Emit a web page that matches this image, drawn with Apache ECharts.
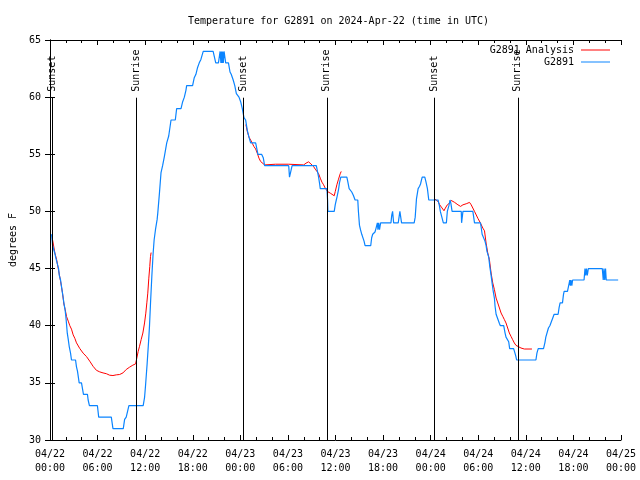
<!DOCTYPE html>
<html>
<head>
<meta charset="utf-8">
<script src="https://cdn.jsdelivr.net/npm/echarts@6/dist/echarts.min.js"></script>
<style>html,body{margin:0;padding:0;background:#fff}#c{width:640px;height:480px}</style>
</head>
<body>
<div id="c"></div>
<script>
// hours since 2024-04-22 00:00 UTC
const xTickLabels = ['04/22\n00:00','04/22\n06:00','04/22\n12:00','04/22\n18:00','04/23\n00:00','04/23\n06:00','04/23\n12:00','04/23\n18:00','04/24\n00:00','04/24\n06:00','04/24\n12:00','04/24\n18:00','04/25\n00:00'];

const eventNames = ['Sunset','Sunrise','Sunset','Sunrise','Sunset','Sunrise'];
const eventTimes = [0.33, 10.87, 24.4, 34.9, 48.45, 59.0];

const obsTimes = [0.2,0.33,0.62,0.71,0.96,1.08,1.17,1.33,1.54,1.67,1.75,1.92,2.04,2.17,2.3,2.42,2.59,2.71,3.22,3.34,3.47,3.68,3.97,4.22,4.72,4.81,4.97,5.98,6.14,7.73,7.94,9.24,9.41,9.61,9.95,11.75,11.92,12.04,12.25,12.42,12.54,12.67,12.84,13.0,13.13,13.3,13.51,13.59,13.8,14.0,14.2,14.42,14.72,14.97,15.26,15.8,15.97,16.52,16.73,16.94,17.14,17.23,17.98,18.19,18.4,18.61,18.82,19.03,19.32,20.57,20.9,21.24,21.45,21.55,21.62,21.7,21.78,21.85,21.95,22.05,22.15,22.5,22.7,22.85,23.0,23.1,23.3,23.5,23.83,24.04,24.25,24.46,24.67,24.88,25.09,25.3,25.93,26.22,26.68,26.89,27.06,30.1,30.2,30.44,30.53,33.58,33.7,33.87,34.0,34.08,34.92,35.0,35.04,35.84,35.97,36.1,36.2,36.38,36.5,36.67,37.43,37.55,37.72,37.9,38.05,38.26,38.47,38.81,38.89,39.02,39.15,39.31,39.5,39.6,39.73,40.44,40.56,40.69,40.98,41.1,41.28,41.35,41.45,41.55,41.69,42.99,43.1,43.2,43.33,43.91,44.12,44.33,45.92,46.05,46.21,46.42,46.6,46.72,46.93,47.26,47.4,47.59,47.76,48.93,49.1,49.22,49.4,49.6,49.98,50.1,50.3,50.44,50.55,50.7,51.86,51.9,51.98,52.07,53.32,53.53,54.28,54.35,54.49,54.7,54.85,54.99,55.1,55.32,55.45,55.62,55.75,55.87,56.04,56.12,56.25,56.46,56.67,56.79,57.21,57.37,57.5,57.71,57.84,57.96,58.46,58.63,58.75,58.84,61.27,61.4,61.56,62.23,62.4,62.52,62.73,62.85,63.03,63.28,63.57,64.07,64.2,64.32,64.62,64.74,64.83,65.25,65.46,65.54,65.62,65.7,65.8,65.9,66.08,67.34,67.46,67.55,67.65,67.75,67.88,68.09,69.64,69.76,69.85,69.95,70.05,70.14,71.64];
const obsTemps = [48,47,46.3,46,46,45,44.4,44,43,42.4,42,41.3,40.5,39.4,38.8,38.2,37.6,37,37,36.4,36,35,35,34,34,33.5,33,33,32,32,31,31,31.8,32,33,33,33.7,34.7,36.7,38.5,39.9,41.9,44.3,46.3,47.5,48.4,49.3,49.85,51.6,53.4,54,54.8,56,56.6,58,58,59,59,59.6,60,60.6,61,61,61.7,62,62.6,63,63.3,64,64,63,63,64,63,64,63,64,63,64,64,63,63,62.2,62,62,61.5,61,60.3,60,59.6,59,58.2,58,57.1,56.5,56,56,55,55,54.7,54,54,53,53,54,54,53.6,53,52.4,52,52,51,50,50,50.6,51,51.3,51.9,52.5,53,53,52.6,52,52,51.7,51.4,51,51,50,48.8,48.4,48,47.9,47.4,47,47,47.7,48,48.2,48.5,49,48.4,49,48.4,49,49,49.7,50,49,49,50,49,49,49.5,51.1,52,52.2,52.4,53,53,52.6,52,51,51,50.5,50,50,49,49,50,50.5,51,50.7,50,50,49,49,50,50,49,49,48.7,48,48,47.4,47,46.5,46,45.2,44.4,43.7,43.1,42.4,41.7,41,41,40.2,40,40,39.4,39,39,38.6,38,38,37.6,37.3,37,37,37.6,38,38,38.5,39,39,39.8,40,40,41,41,41.6,42,42,42.7,43,43,43.7,44,43.5,44,43.5,44,44,44,45,44.4,45,44.4,45,45,45,44,45,44,45,44,44];

const anaTimes = [0.3,0.62,0.83,1.04,1.33,1.58,1.75,1.92,2.09,2.3,2.5,2.71,2.92,3.13,3.34,3.76,4.18,4.6,5.01,5.43,5.85,6.27,6.69,7.11,7.52,7.94,8.36,8.78,9.2,9.61,10.03,10.45,10.79,10.95,11.12,11.29,11.5,11.71,11.92,12.08,12.21,12.33,12.46,12.58,12.67,12.75,18,
24.7,24.88,25.09,25.3,25.51,25.72,25.93,26.14,26.35,26.56,26.77,27.06,28.44,30.1,30.31,31.99,32.28,32.6,32.9,33.24,33.45,33.66,33.87,34.08,34.29,34.5,34.71,35.0,35.34,35.84,35.97,36.17,36.38,36.59,36.72,42,
48.5,48.72,48.93,49.14,49.35,49.68,49.85,50.1,50.39,50.6,50.81,51.02,51.44,51.77,52.07,52.48,52.9,53.11,53.53,53.95,54.28,54.58,54.79,54.99,55.2,55.41,55.62,55.83,56.04,56.25,56.46,56.67,56.88,57.09,57.3,57.5,57.71,57.92,58.13,58.34,58.55,58.76,58.97,59.39,59.81,60.77];
const anaTemps = [47.6,46.35,45.8,45.0,43.9,42.85,41.9,41.4,40.8,40.4,40.0,39.7,39.2,38.9,38.5,38.0,37.6,37.3,36.9,36.45,36.1,35.96,35.87,35.8,35.67,35.64,35.7,35.73,35.87,36.17,36.37,36.55,36.66,37.18,37.76,38.2,38.8,39.36,40.24,41.1,42.0,42.85,44.16,45.18,46.05,46.4,null,
57.6,57.0,56.5,56.25,55.96,55.67,55.47,55.09,54.66,54.37,54.22,54.07,54.13,54.13,54.07,54.07,54.22,54.34,54.16,53.92,53.7,53.5,53.3,52.91,52.56,52.33,52.03,51.74,51.6,51.37,51.74,52.33,52.82,53.29,53.5,null,
51.1,51.07,50.87,50.58,50.38,50.06,50.29,50.58,50.73,50.96,50.87,50.79,50.58,50.44,50.58,50.67,50.79,50.58,50.0,49.4,48.98,48.54,48.3,47.23,46.36,45.77,44.61,43.74,43.15,42.42,41.99,41.55,41.11,40.82,40.53,40.24,39.8,39.36,39.07,38.78,38.49,38.28,38.2,38.05,37.96,37.96];

const FONT = 'DejaVu Sans Mono';
const obsData = obsTimes.map((t, i) => [t, obsTemps[i]]);
const anaData = anaTimes.map((t, i) => [t, anaTemps[i]]);

const markData = [];
eventTimes.forEach((t, i) => {
  markData.push([{coord: [t, 30], lineStyle: {color: '#000', width: 1, type: 'solid'}, label: {show: false}}, {coord: [t, 59.95]}]);
  markData.push([{name: eventNames[i], coord: [t, 59.95], lineStyle: {color: 'rgba(0,0,0,0)', width: 1},
    label: {show: true, formatter: '{b}', position: 'insideStart', distance: 6, color: '#000', fontFamily: FONT, fontSize: 10}}, {coord: [t, 65]}]);
});

const chart = echarts.init(document.getElementById('c'), null, {renderer: 'canvas'});
const tickCommon = {show: true, inside: true, length: 5, lineStyle: {color: '#000', width: 1}};
const minorCommon = {show: true, splitNumber: 3, length: 3, lineStyle: {color: '#000', width: 1}};
chart.setOption({
  animation: false,
  backgroundColor: '#fff',
  title: {text: 'Temperature for G2891 on 2024-Apr-22 (time in UTC)', left: 183, top: 11,
    textStyle: {fontFamily: FONT, fontSize: 10, fontWeight: 'normal', color: '#000'}},
  legend: [
    {data: ['G2891 Analysis'], right: 30, top: 45, orient: 'vertical', align: 'right', padding: 0,
      icon: 'rect', itemWidth: 29, itemHeight: 1, textStyle: {fontFamily: FONT, fontSize: 10, color: '#000', padding: [0, 2, 0, 0]}},
    {data: ['G2891'], right: 30, top: 57, orient: 'vertical', align: 'right', padding: 0,
      icon: 'rect', itemWidth: 29, itemHeight: 1, textStyle: {fontFamily: FONT, fontSize: 10, color: '#000', padding: [0, 2, 0, 0]}}
  ],
  grid: {left: 47, top: 40, width: 574, height: 400, containLabel: false},
  xAxis: [
    {type: 'value', min: 0, max: 72, interval: 6, position: 'bottom',
      axisLine: {show: true, lineStyle: {color: '#000', width: 1}},
      axisTick: tickCommon, minorTick: minorCommon, splitLine: {show: false},
      axisLabel: {show: true, margin: 7, color: '#000', fontFamily: FONT, fontSize: 10, lineHeight: 14,
        formatter: v => xTickLabels[Math.round(v / 6)]}},
    {type: 'value', min: 0, max: 72, interval: 6, position: 'top',
      axisLine: {show: true, lineStyle: {color: '#000', width: 1}},
      axisTick: tickCommon, minorTick: minorCommon, splitLine: {show: false}, axisLabel: {show: false}}
  ],
  yAxis: [
    {type: 'value', min: 30, max: 65, interval: 5, position: 'left',
      name: 'degrees F', nameLocation: 'middle', nameGap: 32,
      nameTextStyle: {fontFamily: FONT, fontSize: 10, color: '#000'},
      axisLine: {show: true, lineStyle: {color: '#000', width: 1}},
      axisTick: tickCommon, splitLine: {show: false},
      axisLabel: {show: true, margin: 9, color: '#000', fontFamily: FONT, fontSize: 10}},
    {type: 'value', min: 30, max: 65, interval: 5, position: 'right',
      axisLine: {show: true, lineStyle: {color: '#000', width: 1}},
      axisTick: tickCommon, splitLine: {show: false}, axisLabel: {show: false}}
  ],
  series: [
    {name: 'G2891 Analysis', type: 'line', data: anaData, color: '#ff0000', showSymbol: false, symbol: 'none',
      connectNulls: false, lineStyle: {color: '#ff0000', width: 1}, silent: true,
      markLine: {silent: true, symbol: ['none', 'none'], animation: false, data: markData}},
    {name: 'G2891', type: 'line', data: obsData, color: '#0a84ff', showSymbol: false, symbol: 'none',
      lineStyle: {color: '#0a84ff', width: 1.2}, silent: true}
  ]
});
</script>
</body>
</html>
